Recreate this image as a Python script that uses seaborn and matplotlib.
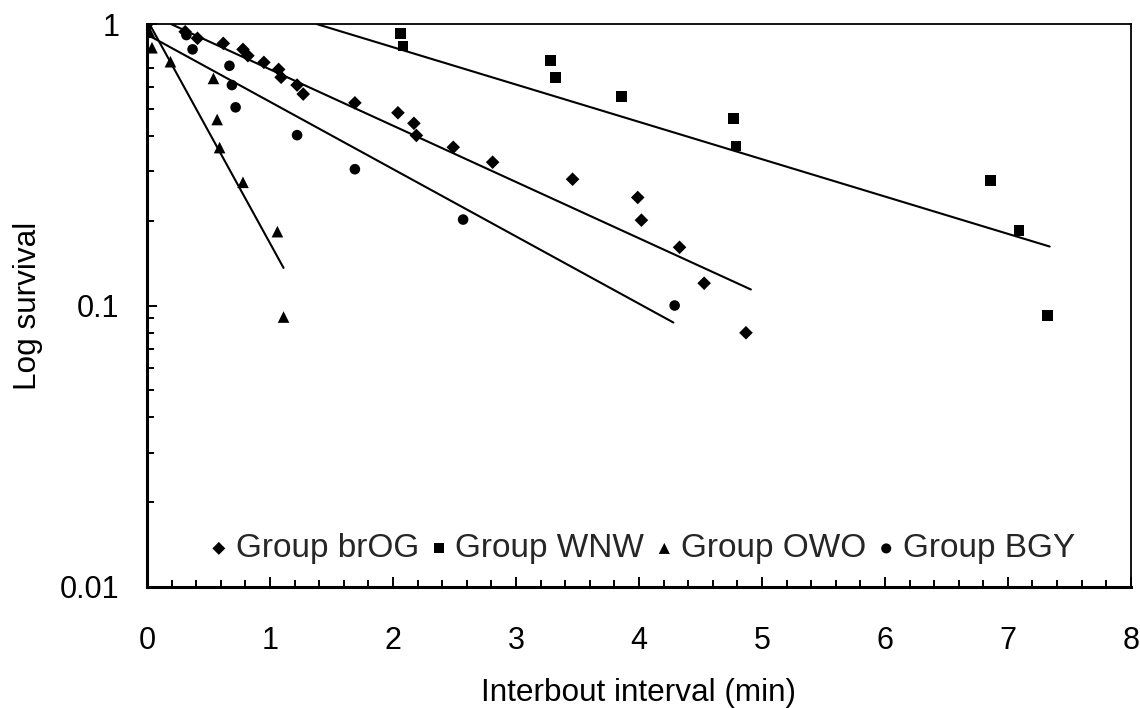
import numpy as np
import pandas as pd
import matplotlib
matplotlib.use("Agg")
import matplotlib.pyplot as plt
import seaborn as sns
from matplotlib.ticker import FixedLocator, FixedFormatter, MultipleLocator, LogLocator, NullFormatter

# ---- data ----
brog_x = [0.0, 0.31, 0.41, 0.62, 0.78, 0.82, 0.95, 1.07, 1.09, 1.22, 1.27, 1.69, 2.04, 2.17, 2.19,
          2.49, 2.81, 3.46, 3.99, 4.02, 4.33, 4.53, 4.87]
brog_y = [1.0, 0.939, 0.89, 0.854, 0.813, 0.772, 0.731, 0.69, 0.647, 0.607, 0.564, 0.525, 0.484, 0.444, 0.402,
          0.365, 0.323, 0.281, 0.242, 0.201, 0.161, 0.12, 0.080]

wnw_x = [0.0, 2.06, 2.08, 3.28, 3.32, 3.86, 4.77, 4.79, 6.86, 7.09, 7.32]
wnw_y = [1.0, 0.927, 0.835, 0.741, 0.647, 0.554, 0.461, 0.369, 0.278, 0.185, 0.092]

owo_x = [0.02, 0.04, 0.19, 0.54, 0.57, 0.59, 0.78, 1.06, 1.11]
owo_y = [0.935, 0.824, 0.735, 0.641, 0.458, 0.364, 0.274, 0.183, 0.091]

bgy_x = [0.0, 0.32, 0.37, 0.67, 0.69, 0.72, 1.22, 1.69, 2.57, 4.29]
bgy_y = [1.0, 0.914, 0.813, 0.711, 0.607, 0.506, 0.403, 0.305, 0.202, 0.100]

# fitted lines (start / end points)
fit_brog_x = [0.195, 4.91]
fit_brog_y = [1.0, 0.114]
fit_wnw_x = [1.38, 7.34]
fit_wnw_y = [1.0, 0.162]
fit_owo_x = [0.02, 1.11]
fit_owo_y = [1.0, 0.136]
fit_bgy_x = [0.0, 4.28]
fit_bgy_y = [0.918, 0.087]

groups = ["Group brOG", "Group WNW", "Group OWO", "Group BGY"]
x_label = "Interbout interval (min)"
y_label = "Log survival"
y_ticks = [0.01, 0.1, 1]
y_tick_labels = ["0.01", "0.1", "1"]

# ---- build frames ----
pts = pd.concat([
    pd.DataFrame({"x": brog_x, "y": brog_y, "group": groups[0]}),
    pd.DataFrame({"x": wnw_x, "y": wnw_y, "group": groups[1]}),
    pd.DataFrame({"x": owo_x, "y": owo_y, "group": groups[2]}),
    pd.DataFrame({"x": bgy_x, "y": bgy_y, "group": groups[3]}),
], ignore_index=True)
fits = pd.concat([
    pd.DataFrame({"x": fit_brog_x, "y": fit_brog_y, "group": groups[0]}),
    pd.DataFrame({"x": fit_wnw_x, "y": fit_wnw_y, "group": groups[1]}),
    pd.DataFrame({"x": fit_owo_x, "y": fit_owo_y, "group": groups[2]}),
    pd.DataFrame({"x": fit_bgy_x, "y": fit_bgy_y, "group": groups[3]}),
], ignore_index=True)

sns.set_theme(style="white")
plt.rcParams["font.family"] = ["Liberation Sans", "DejaVu Sans"]

fig = plt.figure(figsize=(11.4, 7.08), dpi=100)
ax = fig.add_axes([0.129, 0.171, 0.863, 0.795])

ax.set_yscale("log")

for g in groups:
    sub = fits[fits.group == g]
    sns.lineplot(data=sub, x="x", y="y", ax=ax, color="black", linewidth=1.5,
                 legend=False, estimator=None, sort=False)

markers = {groups[0]: "D", groups[1]: "s", groups[2]: "^", groups[3]: "o"}
sizes = {groups[0]: 48, groups[1]: 58, groups[2]: 70, groups[3]: 58}
for g in groups:
    sub = pts[pts.group == g]
    sns.scatterplot(data=sub, x="x", y="y", ax=ax, marker=markers[g], s=sizes[g],
                    color="black", edgecolor="none", label=g, zorder=3)

ax.set_xlim(0, 8)
ax.set_ylim(0.01, 1)

ax.xaxis.set_major_locator(MultipleLocator(1))
ax.xaxis.set_minor_locator(MultipleLocator(0.2))
ax.yaxis.set_major_locator(FixedLocator(y_ticks))
ax.yaxis.set_major_formatter(FixedFormatter(y_tick_labels))
ax.yaxis.set_minor_locator(LogLocator(base=10, subs=np.arange(2, 10)))
ax.yaxis.set_minor_formatter(NullFormatter())

ax.tick_params(axis="both", which="both", bottom=True, left=True, top=False, right=False)
ax.tick_params(axis="both", which="major", direction="in", length=7, width=1.4,
               labelsize=22, colors="black")
ax.tick_params(axis="both", which="minor", direction="in", length=5, width=1.4, colors="black")
ax.tick_params(axis="x", which="major", pad=28)
ax.tick_params(axis="y", which="major", pad=20)

for side in ["left", "bottom"]:
    ax.spines[side].set_linewidth(2.2)
    ax.spines[side].set_color("black")
for side in ["top", "right"]:
    ax.spines[side].set_linewidth(1.3)
    ax.spines[side].set_color("black")

ax.set_xlabel(x_label, fontsize=22.7, labelpad=16, color="black")
ax.set_ylabel(y_label, fontsize=22.7, labelpad=12, color="black")

leg = ax.legend(loc="center", bbox_to_anchor=(0.503, 0.068), ncol=4, frameon=False,
                fontsize=24, markerscale=0.95, handlelength=0.6, handletextpad=0.2,
                columnspacing=0.3, borderpad=0)

fig.savefig("out.png", dpi=100, facecolor="white")
